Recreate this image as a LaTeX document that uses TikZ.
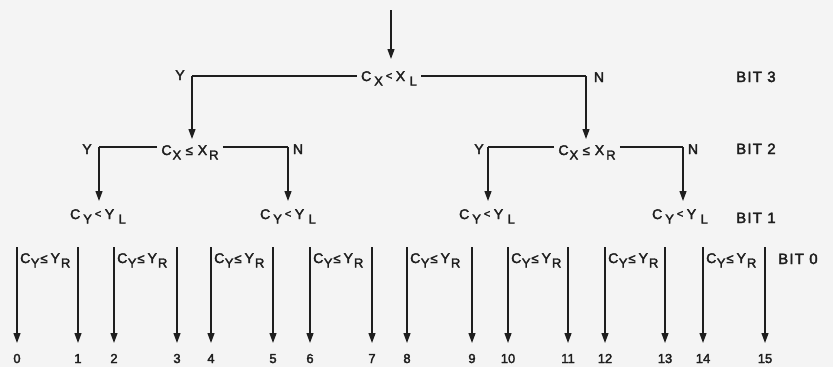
\documentclass[tikz,border=0pt]{standalone}
\usepackage{fontspec}
\setmainfont{Liberation Sans}[FakeBold=2.5]
\newfontfamily\bitfont{Liberation Sans}[LetterSpace=8,FakeBold=2.5]
\usetikzlibrary{arrows.meta}
\definecolor{ink}{HTML}{1E1E1E}
\definecolor{paper}{HTML}{F4F4F4}
\newcommand\subs[1]{\raisebox{-4.5pt}{\fontsize{13}{13}\selectfont #1}}
\newcommand\mylt{\raisebox{1.5pt}{\fontsize{11}{11}\selectfont <}}
\newcommand\myle{{\fontsize{13}{13}\selectfont ≤}}
\newcommand\ltform[4]{#1\hspace{3pt}\subs{#2}\hspace{3pt}\mylt\hspace{3.5pt}#3\hspace{4.5pt}\subs{#4}}
\newcommand\leform[4]{#1\hspace{1pt}\subs{#2}\hspace{4.5pt}\myle\hspace{5pt}#3\hspace{2pt}\subs{#4}}
\newcommand\leformb[4]{#1\hspace{0.5pt}\subs{#2}\hspace{1pt}\myle\hspace{3pt}#3\hspace{1pt}\subs{#4}}
\tikzset{
  txt/.style={font=\fontsize{14}{14}\selectfont, text=ink, inner ysep=1pt, inner xsep=4pt, anchor=base},
  bitlbl/.style={font=\bitfont\fontsize{15}{15}\selectfont, text=ink, inner sep=0pt, anchor=base west},
  yn/.style={font=\fontsize{14}{14}\selectfont, text=ink, inner sep=0pt, anchor=base},
  num/.style={font=\fontsize{13}{13}\selectfont, text=ink, inner sep=1pt, anchor=base},
  ln/.style={draw=ink, line width=1.2pt},
  arr/.style={draw=ink, line width=1.2pt, -{Triangle[length=10pt,width=7pt]}},
}
\begin{document}
\begin{tikzpicture}[x=1pt,y=-1pt]
\fill[paper] (0,0) rectangle (833,367);
\useasboundingbox (0,0) rectangle (833,367);

% ---- level 3
\coordinate (start) at (391,10);
\node[txt] (n3) at (389,81) {\ltform{C}{X}{X}{L}};
\draw[arr] (start) -- (391,59);
\coordinate (l3) at (192,76);
\coordinate (r3) at (586,76);
\node[yn] (y3) at (180,80) {Y};
\node[yn] (no3) at (599,82) {N};
\node[bitlbl] (b3) at (736,82) {BIT 3};

% ---- level 2
\node[txt] (n2l) at (190,155) {\leform{C}{X}{X}{R}};
\node[txt] (n2r) at (587,155) {\leform{C}{X}{X}{R}};
\draw[ln] (n3.west |- l3) -- (l3);
\draw[arr] (l3) -- (l3 |- 0,139);
\draw[ln] (n3.east |- r3) -- (r3);
\draw[arr] (r3) -- (r3 |- 0,139);
\node[yn] (y2l) at (87,154) {Y};
\node[yn] (no2l) at (298,154) {N};
\node[yn] (y2r) at (479,154) {Y};
\node[yn] (no2r) at (693,154) {N};
\node[bitlbl] (b2) at (736,154) {BIT 2};

% ---- level 1
\coordinate (a1) at (99,147);
\coordinate (a2) at (288,147);
\coordinate (a3) at (488,147);
\coordinate (a4) at (683,147);
\node[txt] (n1a) at (98,219) {\ltform{C}{Y}{Y}{L}};
\node[txt] (n1b) at (288,219) {\ltform{C}{Y}{Y}{L}};
\node[txt] (n1c) at (487,219) {\ltform{C}{Y}{Y}{L}};
\node[txt] (n1d) at (680,219) {\ltform{C}{Y}{Y}{L}};
\draw[ln] (n2l.west |- a1) -- (a1);
\draw[arr] (a1) -- (a1 |- 0,201);
\draw[ln] (n2l.east |- a2) -- (a2);
\draw[arr] (a2) -- (a2 |- 0,201);
\draw[ln] (n2r.west |- a3) -- (a3);
\draw[arr] (a3) -- (a3 |- 0,201);
\draw[ln] (n2r.east |- a4) -- (a4);
\draw[arr] (a4) -- (a4 |- 0,201);
\node[bitlbl] (b1) at (736,223) {BIT 1};

% ---- level 0
\node[bitlbl] (b0) at (778,264) {BIT 0};
\foreach \x [count=\k from 0] in {17,78,114,177,211,273,310,372,407,472,508,568,605,665,703,765}{
  \coordinate (t\k) at (\x,247);
  \node[num] (num\k) at (\x,363) {\k};
  \draw[arr] (t\k) -- (\x,343);
}
\foreach \x [count=\k] in {17,114,211,310,407,508,605,703}{
  \node[txt, anchor=base west, inner xsep=3pt] (c\k) at (\x,263) {\leformb{C}{Y}{Y}{R}};
}
\end{tikzpicture}
\end{document}
